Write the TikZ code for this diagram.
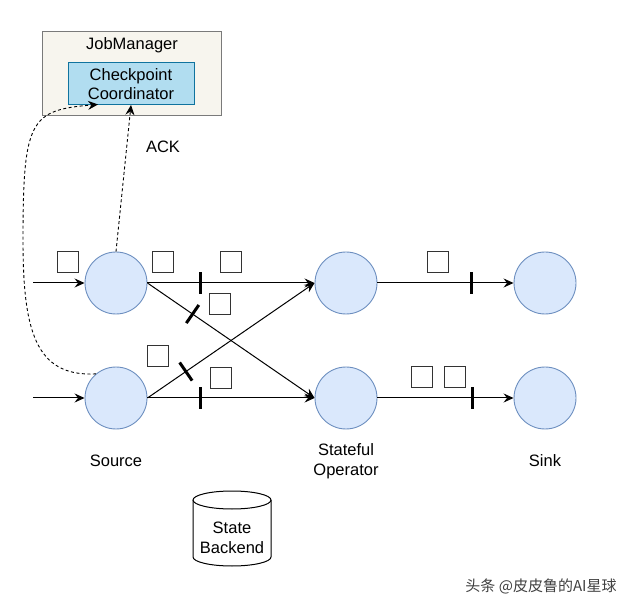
\documentclass[tikz,border=0pt]{standalone}
\usepackage{fontspec}
\setmainfont{Liberation Sans}
\newfontfamily\cjk{Noto Sans CJK SC}
\usetikzlibrary{arrows.meta}
\definecolor{cfill}{HTML}{DAE8FC}
\definecolor{cdraw}{HTML}{6C8EBF}
\definecolor{jmfill}{HTML}{F7F5EE}
\definecolor{jmdraw}{HTML}{7A7A7A}
\definecolor{ccfill}{HTML}{B1DDF0}
\definecolor{ccdraw}{HTML}{10739E}
\tikzset{
  op/.style={circle, fill=cfill, draw=cdraw, line width=0.9pt, minimum size=62pt, inner sep=0pt},
  rec/.style={rectangle, draw=black!80, line width=1pt, minimum size=21pt, inner sep=0pt},
  barrier/.style={rectangle, fill=black, minimum width=3pt, minimum height=22pt, inner sep=0pt, sloped},
  flow/.style={line width=1pt, -{Stealth[length=10pt,width=9pt,inset=3.5pt]}},
  dflow/.style={line width=0.9pt, dashed, dash pattern=on 3pt off 2.5pt, -{Stealth[length=10pt,width=9pt,inset=3.5pt]}},
  lbl/.style={font=\fontsize{16.5}{19.5}\selectfont, align=center, inner sep=0pt},
}
\begin{document}
\begin{tikzpicture}[x=1pt,y=-1pt]
\useasboundingbox (0,0) rectangle (640,609);
% JobManager
\node[draw=jmdraw, fill=jmfill, line width=1pt, minimum width=179pt, minimum height=84pt, inner sep=0pt] (jm) at (131.5,74) {};
\node[lbl] (jmt) at (132,45) {JobManager};
\node[draw=ccdraw, fill=ccfill, line width=1pt, minimum width=126pt, minimum height=42pt, inner sep=0pt, lbl] (cc) at (131,84) {Checkpoint\\Coordinator};
\node[lbl] (ack) at (163,147) {ACK};
% operators
\node[op] (s1) at (116,283) {};
\node[op] (s2) at (116,398) {};
\node[op] (o1) at (346,283) {};
\node[op] (o2) at (346,398) {};
\node[op] (k1) at (545,283) {};
\node[op] (k2) at (545,398) {};
% inputs
\coordinate (in1) at (33,283);
\coordinate (in2) at (33,398);
\draw[flow] (in1) -- (s1);
\draw[flow] (in2) -- (s2);
% edges
\draw[flow] (s1.east) -- node[barrier, pos=0.315] (b1) {} (o1.west);
\draw[flow] (s1.east) -- node[barrier, pos=0.27] (b2) {} (o2.west);
\draw[flow] (s2.east) -- node[barrier, pos=0.23] (b3) {} (o1.west);
\draw[flow] (s2.east) -- node[barrier, pos=0.32] (b4) {} (o2.west);
\draw[flow] (o1.east) -- node[barrier, pos=0.69] (b5) {} (k1.west);
\draw[flow] (o2.east) -- node[barrier, pos=0.70] (b6) {} (k2.west);
% records
\node[rec] (r1) at (68,262) {};
\node[rec] (r2) at (162.5,262) {};
\node[rec] (r3) at (231,262) {};
\node[rec] (r4) at (220,304) {};
\node[rec] (r5) at (158,356) {};
\node[rec] (r6) at (221,378) {};
\node[rec] (r7) at (438,262) {};
\node[rec] (r8) at (422,377) {};
\node[rec] (r9) at (455,377) {};
% dashed arrows
\coordinate (ccin1) at (98,104.5);
\coordinate (ccin2) at (131,105);
\coordinate (bend) at (23,240);
\draw[dflow] (s2.130) .. controls (35,377) and (23,330) .. (bend)
  .. controls (23,120) and (30,110) .. (ccin1);
\draw[dflow] (s1.north) -- (ccin2);
% labels
\node[lbl] (ls) at (116,461) {Source};
\node[lbl] (lo) at (346,461) {Stateful\\Operator};
\node[lbl] (lk) at (545,461) {Sink};
% state backend
\draw[line width=1pt, fill=white] (193,500) -- (193,557) arc[start angle=180, end angle=0, x radius=39, y radius=9] -- (271,500);
\draw[line width=1pt, fill=white] (232,500) ellipse [x radius=39, y radius=9];
\node[lbl] (sb) at (232,538) {State\\Backend};
% watermark
\node[inner sep=0pt, text=black!75, font=\cjk\fontsize{15}{18}\selectfont] (wm) at (541,586) {头条 @皮皮鲁的AI星球};
\end{tikzpicture}
\end{document}
